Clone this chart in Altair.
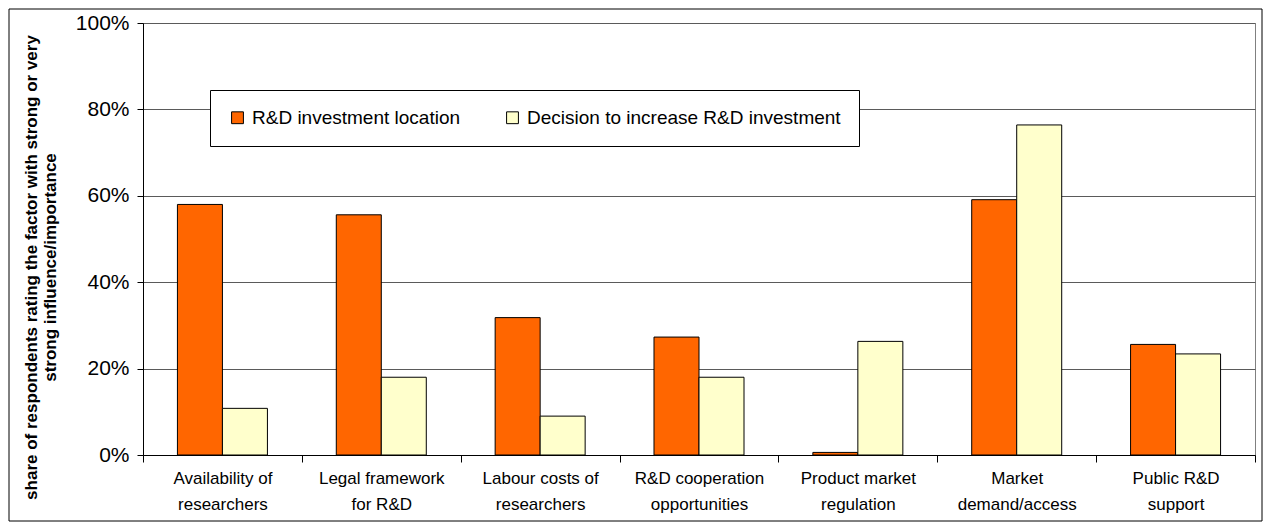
import altair as alt
import pandas as pd

categories = [
    "Availability of|researchers",
    "Legal framework|for R&D",
    "Labour costs of|researchers",
    "R&D cooperation|opportunities",
    "Product market|regulation",
    "Market|demand/access",
    "Public R&D|support",
]
series = ["R&D investment location", "Decision to increase R&D investment"]
location_values = [58.0, 55.6, 31.8, 27.3, 0.6, 59.1, 25.6]
decision_values = [10.8, 18.0, 9.0, 18.0, 26.3, 76.4, 23.4]
y_ticks = [0, 20, 40, 60, 80, 100]
colors = ["#FF6600", "#FFFFCC"]

rows = []
for c, a, b in zip(categories, location_values, decision_values):
    rows.append({"category": c, "series": series[0], "value": a})
    rows.append({"category": c, "series": series[1], "value": b})
df = pd.DataFrame(rows)

FONT = "Liberation Sans"
W, H = 1112, 432

bars = alt.Chart(df).mark_bar(stroke="black", strokeWidth=1).encode(
    x=alt.X(
        "category:N",
        sort=categories,
        scale=alt.Scale(paddingInner=0, paddingOuter=0),
        axis=alt.Axis(
            title=None,
            labelAngle=0,
            labelExpr="split(datum.label, '|')",
            labelFont=FONT,
            labelFontSize=17,
            labelColor="black",
            labelLineHeight=26,
            labelPadding=8,
            tickBand="extent",
            tickSize=7,
            tickColor="black",
            domainColor="black",
            grid=False,
        ),
    ),
    xOffset=alt.XOffset(
        "series:N",
        sort=series,
        scale=alt.Scale(paddingInner=0, paddingOuter=0.765),
    ),
    y=alt.Y(
        "value:Q",
        scale=alt.Scale(domain=[0, 100], nice=False),
        axis=alt.Axis(
            values=y_ticks,
            labelExpr="datum.value + '%'",
            labelFont=FONT,
            labelFontSize=21,
            labelColor="black",
            labelPadding=8,
            tickSize=6,
            tickColor="black",
            domainColor="black",
            gridColor="#5a5a5a",
            gridWidth=1,
            title=["share of respondents rating the factor with strong or very",
                   "strong influence/importance"],
            titleFont=FONT,
            titleFontSize=17,
            titleFontWeight="bold",
            titleColor="black",
            titleLineHeight=19,
            titleAngle=270,
            titleAlign="center",
            titleBaseline="top",
            titleX=-120,
            titleY=244,
        ),
    ),
    color=alt.Color(
        "series:N",
        sort=series,
        scale=alt.Scale(domain=series, range=colors),
        legend=alt.Legend(
            title=None,
            orient="none",
            legendX=67,
            legendY=67,
            direction="horizontal",
            labelFont=FONT,
            labelFontSize=19,
            labelColor="black",
            labelLimit=400,
            symbolType="square",
            symbolSize=140,
            symbolStrokeColor="black",
            symbolStrokeWidth=1,
            columnPadding=42,
            labelOffset=5,
            padding=18,
            strokeColor="black",
            fillColor="white",
        ),
    ),
)

frame = alt.Chart(pd.DataFrame({"k": [0]})).mark_rect(
    fill=None, stroke="black", strokeWidth=1
).encode(
    x=alt.value(-134),
    x2=alt.value(W + 7),
    y=alt.value(-14),
    y2=alt.value(H + 66),
)

chart = alt.layer(bars, frame).properties(
    width=W,
    height=H,
    autosize=alt.AutoSizeParams(type="none"),
    padding={"left": 135, "top": 15, "right": 8, "bottom": 67},
    background="white",
).configure_view(stroke="#808080", strokeWidth=1)

chart.save("out.html", embed_options={"renderer": "svg", "actions": False})
